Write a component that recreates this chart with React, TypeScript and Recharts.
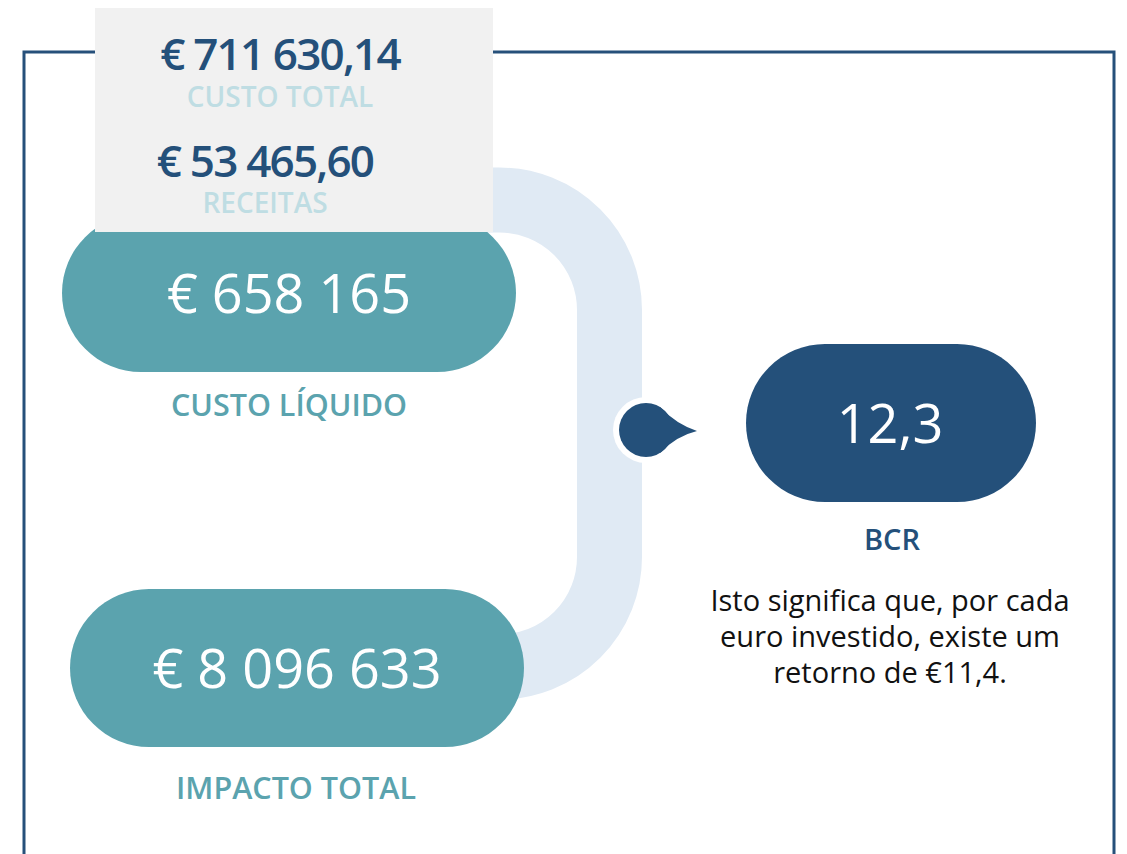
import { Surface, Layer, Rectangle, Text } from 'recharts'

// figures shown in the infographic
const summaryValues = ['€ 711 630,14', '€ 53 465,60']
const summaryLabels = ['CUSTO TOTAL', 'RECEITAS']
const pillValues = ['€ 658 165', '€ 8 096 633']
const pillLabels = ['CUSTO LÍQUIDO', 'IMPACTO TOTAL']
const ratioValue = '12,3'
const ratioLabel = 'BCR'
const noteLines = [
  'Isto significa que, por cada',
  'euro investido, existe um',
  'retorno de €11,4.',
]

const W = 1127
const H = 854
const FONT = "'Open Sans', 'Noto Sans', sans-serif"
const DARK = '#24507a'
const TEAL = '#5ba3ae'
const PALE = '#bfdde3'
const PIPE = '#e0eaf4'
const GREY = '#f1f1f1'

// layout of the left column
const summaryRows = [
  { cx: 280, valueY: 70, labelY: 107 },
  { cx: 265, valueY: 177, labelY: 213 },
]
const pills = [
  { x: 62, y: 214, w: 454, h: 158, labelX: 289, labelY: 416 },
  { x: 70, y: 589, w: 454, h: 158, labelX: 296, labelY: 799 },
]
const ratioPill = { x: 746, y: 344, w: 290, h: 158 }

function Pipe() {
  const r = 110
  const cx = 609.5
  const top = 200
  const bottom = 667
  const d = `M 470 ${top} L ${cx - r} ${top} A ${r} ${r} 0 0 1 ${cx} ${top + r} L ${cx} ${bottom - r} A ${r} ${r} 0 0 1 ${cx - r} ${bottom} L 470 ${bottom}`
  return <path d={d} fill="none" stroke={PIPE} strokeWidth={65} />
}

function Drop() {
  const cx = 646
  const cy = 430
  return (
    <Layer>
      <circle cx={cx} cy={cy} r={33} fill="#fff" />
      <circle cx={cx} cy={cy} r={27} fill={DARK} />
      <path
        d={`M ${cx + 14} ${cy - 23} Q ${cx + 30} ${cy - 6} ${cx + 51} ${cy + 1} Q ${cx + 30} ${cy + 6} ${cx + 14} ${cy + 23} Z`}
        fill={DARK}
      />
    </Layer>
  )
}

export default function App() {
  return (
    <div style={{ position: 'absolute', left: 0, top: 0, width: W, height: H }}>
      <Surface width={W} height={H}>
        <Rectangle x={24} y={52} width={1090} height={900} fill="none" stroke="#26507a" strokeWidth={3} />
        <Pipe />
        {pills.map((p, i) => (
          <Layer key={i}>
            <Rectangle x={p.x} y={p.y} width={p.w} height={p.h} radius={80} fill={TEAL} />
            <Text
              x={p.x + p.w / 2}
              y={p.y + 99}
              textAnchor="middle"
              fontFamily={FONT}
              fontSize={54}
              fill="#fff"
            >
              {pillValues[i]}
            </Text>
            <Text
              x={p.labelX}
              y={p.labelY}
              textAnchor="middle"
              fontFamily={FONT}
              fontSize={30.5}
              fontWeight={600}
              fill={TEAL}
            >
              {pillLabels[i]}
            </Text>
          </Layer>
        ))}
        <Rectangle x={95} y={8} width={398} height={224} fill={GREY} />
        {summaryRows.map((s, i) => (
          <Layer key={i}>
            <Text
              x={s.cx}
              y={s.valueY}
              textAnchor="middle"
              fontFamily={FONT}
              fontSize={44}
              fontWeight={600}
              letterSpacing={-1.8}
              fill={DARK}
            >
              {summaryValues[i]}
            </Text>
            <Text
              x={s.cx}
              y={s.labelY}
              textAnchor="middle"
              fontFamily={FONT}
              fontSize={28}
              fontWeight={600}
              fill={PALE}
            >
              {summaryLabels[i]}
            </Text>
          </Layer>
        ))}
        <Drop />
        <Rectangle
          x={ratioPill.x}
          y={ratioPill.y}
          width={ratioPill.w}
          height={ratioPill.h}
          radius={80}
          fill={DARK}
        />
        <Text x={890} y={443} textAnchor="middle" fontFamily={FONT} fontSize={54} fill="#fff">
          {ratioValue}
        </Text>
        <Text x={892} y={550} textAnchor="middle" fontFamily={FONT} fontSize={29} fontWeight={600} fill={DARK}>
          {ratioLabel}
        </Text>
        {noteLines.map((line, i) => (
          <Text
            key={i}
            x={890}
            y={611 + i * 36}
            textAnchor="middle"
            fontFamily={FONT}
            fontSize={29}
            fill="#111"
          >
            {line}
          </Text>
        ))}
      </Surface>
    </div>
  )
}
